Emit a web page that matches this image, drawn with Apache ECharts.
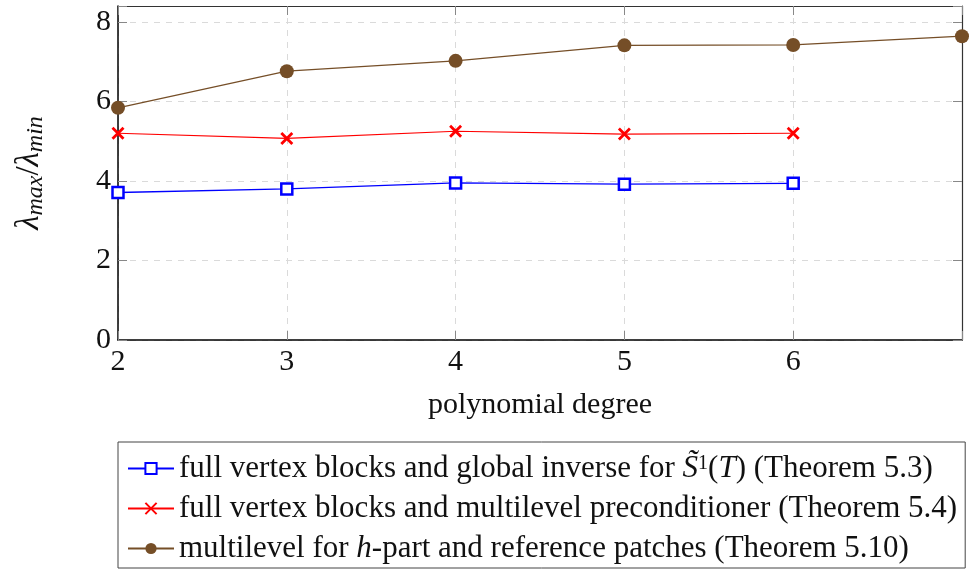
<!DOCTYPE html>
<html>
<head>
<meta charset="utf-8">
<title>condition numbers</title>
<script src="https://cdn.jsdelivr.net/npm/echarts@6/dist/echarts.min.js"></script>
<style>
  html, body { margin: 0; padding: 0; background: #fff; }
  #chart { width: 976px; height: 569px; }
</style>
</head>
<body>
<div id="chart"></div>
<script>
// polynomial degree on the x axis
var degrees = [2, 3, 4, 5, 6, 7]
// lambda_max / lambda_min
var globalInverse = [3.71, 3.80, 3.95, 3.92, 3.94]
var multilevelPrec = [5.20, 5.07, 5.25, 5.18, 5.20]
var hPartRef = [5.84, 6.76, 7.02, 7.41, 7.42, 7.64]
var yTicks = [0, 2, 4, 6, 8]

var names = [
  'full vertex blocks and global inverse for {it|S\u0303}{sup|1}({it|T}) (Theorem 5.3)',
  'full vertex blocks and multilevel preconditioner (Theorem 5.4)',
  'multilevel for {it|h}-part and reference patches (Theorem 5.10)'
]

function pairs(vals) {
  var out = []
  for (var i = 0; i < vals.length; i++) out.push([degrees[i], vals[i]])
  return out
}

var serif = '"Liberation Serif", "DejaVu Serif", serif'
var fs = 30

var chart = echarts.init(document.getElementById('chart'))

var tick = { show: true, inside: true, length: 9, lineStyle: { color: '#888', width: 1 } }
var grid = { show: true, lineStyle: { color: '#dadada', width: 1, type: [6, 6] } }

chart.setOption({
  animation: false,
  grid: { left: 118, right: 14, top: 6, bottom: 229 },
  legend: {
    orient: 'vertical',
    left: 118,
    top: 442,
    padding: [11, 8, 4, 9],
    itemGap: 9,
    itemWidth: 46,
    itemHeight: 14,
    borderColor: '#444',
    borderWidth: 1,
    textStyle: {
      fontFamily: serif,
      fontSize: 31,
      color: '#111',
      lineHeight: 30,
      rich: {
        it: { fontFamily: serif, fontSize: 31, fontStyle: 'italic', color: '#111' },
        sup: { fontFamily: serif, fontSize: 20, verticalAlign: 'top', color: '#111' }
      }
    },
    data: names
  },
  xAxis: [
    {
      type: 'value', min: 2, max: 7, interval: 1,
      name: 'polynomial degree',
      nameLocation: 'middle',
      nameGap: 50,
      nameTextStyle: { fontFamily: serif, fontSize: fs, color: '#111' },
      axisLine: { show: true, onZero: false, lineStyle: { color: '#000', width: 1.5 } },
      axisTick: tick,
      splitLine: grid,
      axisLabel: {
        fontFamily: serif, fontSize: fs, color: '#111', margin: 7,
        formatter: function (v) { return v === 7 ? '' : String(v) }
      }
    },
    {
      type: 'value', min: 2, max: 7, interval: 1, position: 'top',
      axisLine: { show: true, onZero: false, lineStyle: { color: '#333', width: 1.2 } },
      axisTick: tick,
      axisLabel: { show: false },
      splitLine: { show: false }
    }
  ],
  yAxis: [
    {
      type: 'value', min: 0, max: 8.4, interval: 2,
      name: '{it|\u03bb}{sub|max}/{it|\u03bb}{sub|min}',
      nameLocation: 'middle',
      nameRotate: 90,
      nameGap: 70,
      nameTextStyle: {
        fontFamily: serif, fontSize: 33, color: '#111', lineHeight: 38,
        rich: {
          it: { fontFamily: serif, fontSize: 33, fontStyle: 'italic', color: '#111' },
          sub: { fontFamily: serif, fontSize: 24, fontStyle: 'italic', verticalAlign: 'bottom', color: '#111' }
        }
      },
      axisLine: { show: true, onZero: false, lineStyle: { color: '#000', width: 1.5 } },
      axisTick: tick,
      splitLine: grid,
      axisLabel: {
        fontFamily: serif, fontSize: fs, color: '#111', margin: 7,
        formatter: function (v) { return yTicks.indexOf(v) >= 0 ? String(v) : '' }
      }
    },
    {
      type: 'value', min: 0, max: 8.4, interval: 2, position: 'right',
      axisLine: { show: true, onZero: false, lineStyle: { color: '#333', width: 1.2 } },
      axisTick: tick,
      axisLabel: { show: false },
      splitLine: { show: false }
    }
  ],
  series: [
    {
      name: names[0],
      type: 'line',
      data: pairs(globalInverse),
      color: '#0000ff',
      symbol: 'rect',
      symbolSize: 11,
      clip: false,
      lineStyle: { width: 1.3, color: '#0000ff' },
      itemStyle: { color: '#fff', borderColor: '#0000ff', borderWidth: 2.5 }
    },
    {
      name: names[1],
      type: 'line',
      data: pairs(multilevelPrec),
      color: '#ff0000',
      symbol: 'path://M0,0L10,10M10,0L0,10',
      symbolSize: 11,
      clip: false,
      lineStyle: { width: 1.2, color: '#ff0000' },
      itemStyle: { color: '#ff0000', borderColor: '#ff0000', borderWidth: 2.8 }
    },
    {
      name: names[2],
      type: 'line',
      data: pairs(hPartRef),
      color: '#754e27',
      symbol: 'circle',
      symbolSize: 14,
      clip: false,
      lineStyle: { width: 1.2, color: '#754e27' },
      itemStyle: { color: '#754e27' }
    }
  ]
})
</script>
</body>
</html>
